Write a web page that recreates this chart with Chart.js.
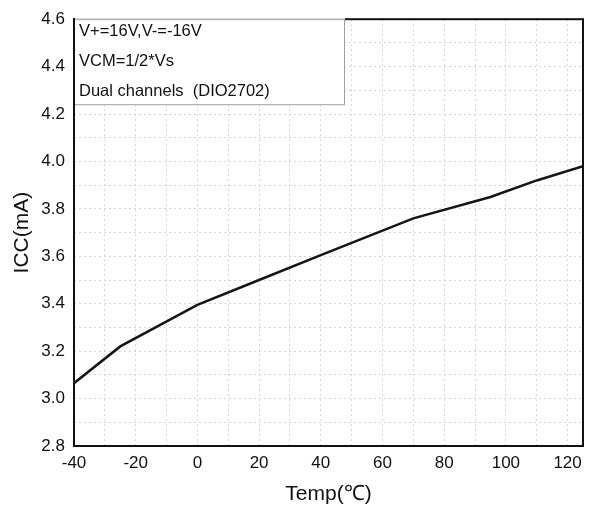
<!DOCTYPE html>
<html>
<head>
<meta charset="utf-8">
<script src="https://cdn.jsdelivr.net/npm/chart.js@4"></script>
<style>
  body { margin: 0; background: #fff; }
  canvas { display: block; }
</style>
</head>
<body>
<canvas id="iccChart" width="589" height="508"></canvas>
<script>
const temps = [-40, -25, 0, 20, 40, 70, 95, 110, 125];
const iccValues = [3.065, 3.22, 3.395, 3.50, 3.605, 3.76, 3.85, 3.92, 3.98];
const noteLines = ["V+=16V,V-=-16V", "VCM=1/2*Vs", "Dual channels  (DIO2702)"];
const xTitle = "Temp(℃)";
const yTitle = "ICC(mA)";

const FONT = '"Liberation Sans", Arial, sans-serif';

// frame + note box drawn on top of the plot
const framePlugin = {
  id: "frame",
  afterDatasetsDraw(chart) {
    const { ctx, chartArea } = chart;
    const { left, top, right, bottom } = chartArea;
    ctx.save();
    ctx.strokeStyle = "#111";
    ctx.lineWidth = 2;
    ctx.strokeRect(left, top, right - left, bottom - top);

    const boxW = 270;
    const boxH = 85;
    ctx.fillStyle = "#fff";
    ctx.fillRect(left + 1, top - 1, boxW, boxH + 1);
    ctx.strokeStyle = "#a0a0a0";
    ctx.lineWidth = 1;
    ctx.strokeRect(left + 0.5, top + 0.5, boxW, boxH);

    ctx.strokeStyle = "#111";
    ctx.lineWidth = 2;
    ctx.beginPath();
    ctx.moveTo(left, top - 1);
    ctx.lineTo(left, top + boxH + 2);
    ctx.stroke();

    ctx.fillStyle = "#111";
    ctx.font = `16.5px ${FONT}`;
    ctx.textBaseline = "alphabetic";
    noteLines.forEach((line, i) => {
      ctx.fillText(line, left + 5, top + 17 + i * 30);
    });
    ctx.restore();
  },
};

new Chart(document.getElementById("iccChart"), {
  type: "line",
  data: {
    datasets: [{
      data: temps.map((t, i) => ({ x: t, y: iccValues[i] })),
      borderColor: "#151515",
      borderWidth: 2.5,
      pointRadius: 0,
      tension: 0,
    }],
  },
  options: {
    responsive: false,
    animation: false,
    layout: { padding: { left: 0, top: 15, right: 6, bottom: 0 } },
    plugins: {
      legend: { display: false },
      tooltip: { enabled: false },
    },
    scales: {
      x: {
        type: "linear",
        min: -40,
        max: 125,
        afterFit: (scale) => { scale.height = 62; },
        ticks: {
          stepSize: 10,
          includeBounds: false,
          padding: 7,
          color: "#111",
          font: { family: FONT, size: 17 },
          maxRotation: 0,
          autoSkip: false,
          callback: (value) => (Math.round(value) % 20 === 0 ? String(Math.round(value)) : ""),
        },
        grid: { color: "#d6d6d6", lineWidth: 1, drawTicks: false },
        border: { display: false, dash: [2, 3] },
        title: {
          display: true,
          text: xTitle,
          color: "#111",
          font: { family: FONT, size: 21 },
          padding: { top: 0, bottom: 1 },
        },
      },
      y: {
        min: 2.8,
        max: 4.6,
        afterFit: (scale) => { scale.width = 74; },
        ticks: {
          stepSize: 0.1,
          padding: 9,
          color: "#111",
          font: { family: FONT, size: 17 },
          autoSkip: false,
          callback: (value) => (Math.round(value * 10) % 2 === 0 ? value.toFixed(1) : ""),
        },
        grid: { color: "#d6d6d6", lineWidth: 1, drawTicks: false },
        border: { display: false, dash: [2, 3] },
        title: {
          display: true,
          text: yTitle,
          color: "#111",
          font: { family: FONT, size: 21 },
          padding: { top: 10, bottom: 0 },
        },
      },
    },
  },
  plugins: [framePlugin],
});
</script>
</body>
</html>
